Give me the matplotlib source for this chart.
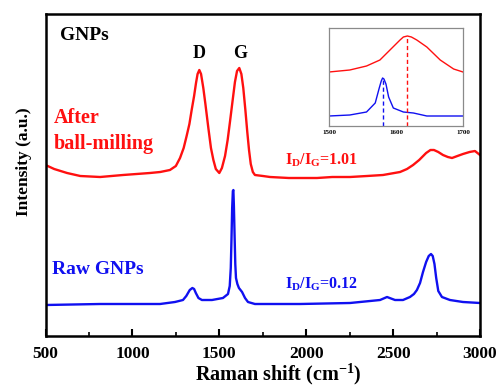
import matplotlib
matplotlib.use("Agg")
import matplotlib.pyplot as plt
from matplotlib.ticker import MultipleLocator

plt.rcParams['font.family'] = ['Liberation Serif', 'DejaVu Serif']
plt.rcParams['font.weight'] = 'bold'
plt.rcParams['mathtext.fontset'] = 'custom'
plt.rcParams['mathtext.rm'] = 'Liberation Serif:bold'
plt.rcParams['mathtext.it'] = 'Liberation Serif:bold'
plt.rcParams['mathtext.bf'] = 'Liberation Serif:bold'

# ---- data ----
milled_x = [500, 550, 624, 700, 814, 946, 1101, 1160, 1216, 1250, 1274, 1295, 1312, 1328, 1341,
            1355, 1366, 1375, 1385, 1395, 1408, 1420, 1437, 1452, 1466, 1480, 1500,
            1515, 1533, 1548, 1562, 1577, 1590, 1602, 1615, 1627, 1638, 1650, 1661, 1671,
            1681, 1693, 1705, 1751, 1792, 1900, 2062, 2150, 2252, 2350, 2442, 2540, 2580,
            2615, 2650, 2690, 2715, 2735, 2760, 2787, 2815, 2839, 2870, 2902, 2940, 2971, 3000]
milled_y = [171, 167, 163, 160, 159, 161, 163, 164, 166, 170, 178, 188, 200, 212, 226,
            240, 253, 262, 266, 262, 248, 232, 208, 188, 176, 167, 163,
            168, 180, 196, 215, 236, 254, 265, 268, 262, 248, 226, 204, 186,
            172, 164, 161, 160, 159, 158, 158, 159, 159, 160, 161, 164, 167,
            171, 176, 183, 186, 186, 184, 181, 179, 178, 180, 182, 184, 185, 181]

raw_x = [500, 814, 1159, 1245, 1291, 1310, 1330, 1345, 1355, 1365, 1380, 1400, 1458, 1521,
         1550, 1560, 1566, 1570, 1574, 1578, 1581, 1584, 1588, 1592, 1596, 1604, 1613, 1631,
         1648, 1665, 1705, 1964, 2252, 2425, 2465, 2511, 2557, 2597, 2620, 2637, 2655, 2672,
         2690, 2705, 2718, 2728, 2738, 2748, 2760, 2781, 2827, 2902, 3000]
raw_y = [31, 32, 32, 34, 36, 40, 46, 48, 47, 43, 38, 36, 36, 38,
         42, 50, 68, 96, 128, 145, 146, 130, 100, 72, 58, 52, 48, 44,
         38, 34, 32, 32, 33, 36, 39, 36, 36, 39, 42, 46, 53, 64,
         74, 80, 82, 80, 72, 58, 45, 39, 36, 34, 33]

inset_milled_x = [1500, 1531, 1556, 1576, 1591, 1606, 1611, 1617, 1623, 1631, 1646, 1666,
                  1686, 1700]
inset_milled_y = [54, 56, 60, 66, 76, 86, 89, 90, 89, 86, 79, 66, 57, 54]
inset_raw_x = [1500, 1531, 1556, 1569, 1575, 1578, 1580, 1582, 1585, 1589, 1596, 1611,
               1626, 1646, 1700]
inset_raw_y = [10, 11, 14, 23, 38, 45, 48, 47, 42, 29, 18, 14, 13, 10, 10]
inset_milled_peak = 1617
inset_raw_peak = 1580

x_ticks = [500, 1000, 1500, 2000, 2500, 3000]
inset_ticks = [1500, 1600, 1700]

RED = '#ff1010'
BLUE = '#1010f0'
W, H = 499, 388

def fx(px):
    return px / W

def fy(py):
    return 1 - py / H

fig = plt.figure(figsize=(W / 100, H / 100), dpi=100)
ax = fig.add_axes([fx(45.5), fy(336), fx(480) - fx(45.5), fy(14) - fy(336)])
ax.plot(milled_x, milled_y, color=RED, lw=1.7)
ax.plot(raw_x, raw_y, color=BLUE, lw=1.7)
ax.set_xlim(500, 3000)
ax.set_ylim(0, 322)
ax.set_xticks(x_ticks)
ax.xaxis.set_minor_locator(MultipleLocator(250))
ax.set_yticks([])
ax.tick_params(axis='x', which='major', direction='in', length=5, width=1.5,
               labelsize=12.5, pad=7)
ax.tick_params(axis='x', which='minor', direction='in', length=3, width=1.2)
for lab in ax.get_xticklabels():
    lab.set_fontweight('bold')
for s in ax.spines.values():
    s.set_linewidth(1.8)
    s.set_color('black')

fig.text(fx(278), fy(374), r'Raman shift (cm$^{-1}$)', ha='center', va='center',
         fontsize=14.5, fontweight='bold')
fig.text(fx(24), fy(162), 'Intensity (a.u.)', ha='center', va='center', rotation=90,
         fontsize=12.5, fontweight='bold')

fig.text(fx(60), fy(35), 'GNPs', ha='left', va='center', fontsize=14, fontweight='bold')
fig.text(fx(199), fy(54), 'D', ha='center', va='center', fontsize=13, fontweight='bold')
fig.text(fx(240), fy(54), 'G', ha='center', va='center', fontsize=13, fontweight='bold')
fig.text(fx(54), fy(118), 'After', ha='left', va='center', fontsize=14.5,
         fontweight='bold', color=RED)
fig.text(fx(54), fy(144), 'ball-milling', ha='left', va='center', fontsize=14.5,
         fontweight='bold', color=RED)
fig.text(fx(52), fy(270), 'Raw GNPs', ha='left', va='center', fontsize=14,
         fontweight='bold', color=BLUE)
fig.text(fx(285), fy(160), r'$I_D/I_G$=1.01', ha='left', va='center', fontsize=11.5,
         fontweight='bold', color=RED)
fig.text(fx(285), fy(284), r'$I_D/I_G$=0.12', ha='left', va='center', fontsize=11.5,
         fontweight='bold', color=BLUE)

# inset
ins = fig.add_axes([fx(329), fy(126), fx(463) - fx(329), fy(28) - fy(126)])
ins.plot(inset_milled_x, inset_milled_y, color=RED, lw=1.0)
ins.plot(inset_raw_x, inset_raw_y, color=BLUE, lw=1.0)
ins.plot([inset_milled_peak, inset_milled_peak], [0, max(inset_milled_y)], color=RED,
         lw=1.0, ls=(0, (3, 2)))
ins.plot([inset_raw_peak, inset_raw_peak], [0, max(inset_raw_y)], color=BLUE,
         lw=1.0, ls=(0, (3, 2)))
ins.set_xlim(1500, 1700)
ins.set_ylim(0, 98)
ins.set_xticks(inset_ticks)
ins.set_yticks([])
ins.tick_params(axis='x', length=0, labelsize=5, pad=3)
for s in ins.spines.values():
    s.set_linewidth(0.9)
    s.set_color('#8a8a8a')

fig.savefig('out.png', dpi=100)
